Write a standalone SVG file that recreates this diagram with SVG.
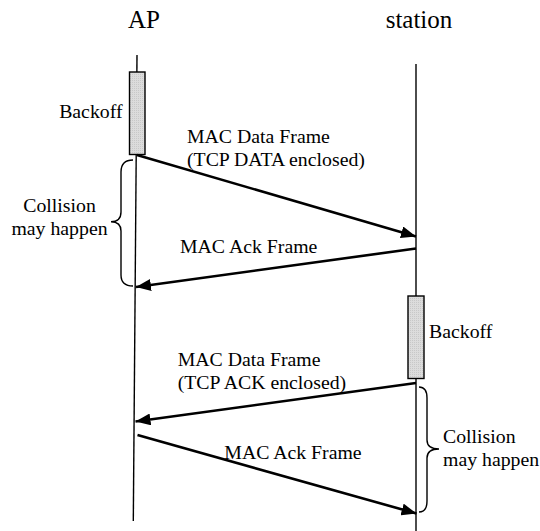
<svg xmlns="http://www.w3.org/2000/svg" width="540" height="531" viewBox="0 0 540 531">
<defs>
<pattern id="dots" width="2" height="2" patternUnits="userSpaceOnUse">
<rect width="2" height="2" fill="#dcdcdc"/>
<rect width="1" height="1" fill="#c8c8c8"/>
</pattern>
<marker id="ah" markerUnits="userSpaceOnUse" markerWidth="16" markerHeight="12" refX="15" refY="6" orient="auto">
<path d="M0,0 L15,6 L0,12 Z" fill="#000"/>
</marker>
<style>
text{font-family:"Liberation Serif","Times New Roman",serif;fill:#000}
.title{font-size:25px}
.lbl{font-size:19.8px}
.life{stroke:#000;stroke-width:1.4;fill:none}
.msg{stroke:#000;stroke-width:2.6;fill:none}
.box{fill:url(#dots);stroke:#000;stroke-width:1.4}
.brace{stroke:#000;stroke-width:1.4;fill:none}
</style>
</defs>
<rect width="540" height="531" fill="#fff"/>
<g id="AP">
<text class="title" x="144" y="28" text-anchor="middle">AP</text>
<line class="life" x1="137" y1="55" x2="133.3" y2="521"/>
<rect class="box" x="129.5" y="72" width="15.5" height="82.5"/>
<text class="lbl" x="122.5" y="118" text-anchor="end">Backoff</text>
</g>
<g id="station">
<text class="title" x="419" y="28" text-anchor="middle">station</text>
<line class="life" x1="416" y1="64" x2="416" y2="531"/>
<rect class="box" x="408" y="296" width="16" height="82.5"/>
<text class="lbl" x="429" y="338">Backoff</text>
</g>
<g id="collision1">
<path class="brace" d="M133,160 Q121,160 121,172 L121,212 Q121,221.7 111,221.7 Q121,221.7 121,231 L121,275 Q121,286 133,286"/>
<text class="lbl" x="59.5" y="212" text-anchor="middle">Collision</text>
<text class="lbl" x="59.5" y="235" text-anchor="middle">may happen</text>
</g>
<g id="collision2">
<path class="brace" d="M419,387 Q427,387 427,398 L427,440 Q427,449 439,449 Q427,449 427,458 L427,501 Q427,512 419,512"/>
<text class="lbl" x="443" y="443">Collision</text>
<text class="lbl" x="443" y="465.5">may happen</text>
</g>
<g id="connectors">
<line class="msg" x1="137" y1="155" x2="416" y2="236.5" marker-end="url(#ah)"/>
<line class="msg" x1="416" y1="248.5" x2="136" y2="287" marker-end="url(#ah)"/>
<line class="msg" x1="416" y1="383" x2="135.5" y2="421.5" marker-end="url(#ah)"/>
<line class="msg" x1="137.5" y1="435" x2="416.5" y2="513.5" marker-end="url(#ah)"/>
</g>
<g id="labels">
<text class="lbl" x="187" y="143.3">MAC Data Frame</text>
<text class="lbl" x="187" y="165.7">(TCP DATA enclosed)</text>
<text class="lbl" x="180" y="253.3">MAC Ack Frame</text>
<text class="lbl" x="177.7" y="365.5">MAC Data Frame</text>
<text class="lbl" x="177.7" y="388.5">(TCP ACK enclosed)</text>
<text class="lbl" x="224.3" y="459">MAC Ack Frame</text>
</g>
</svg>
